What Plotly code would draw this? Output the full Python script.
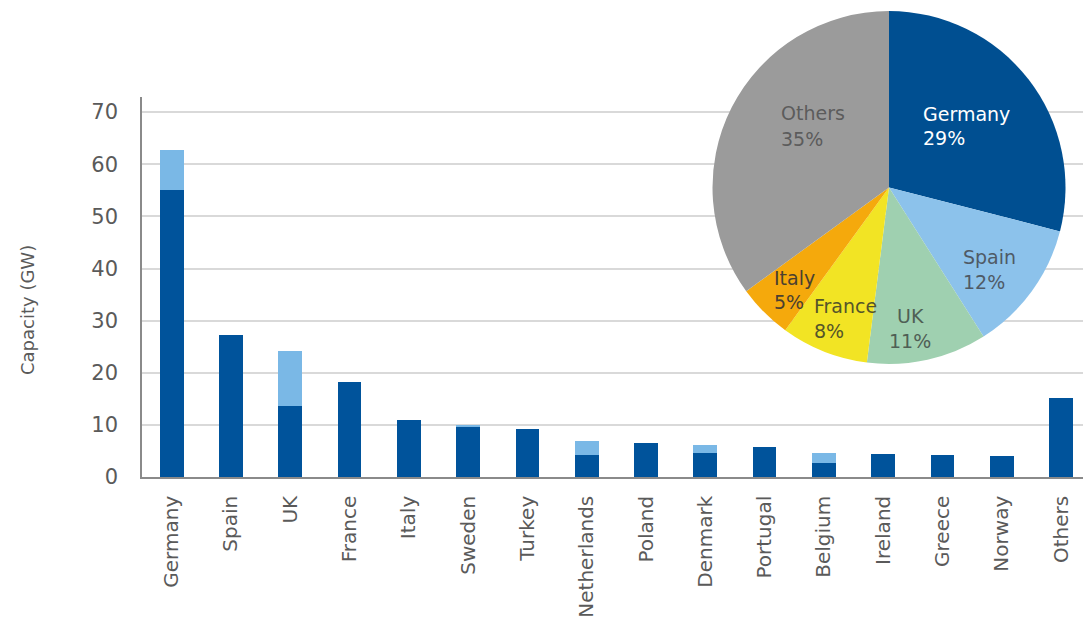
import plotly.graph_objects as go

# Installed wind capacity by country (GW), onshore + offshore
countries = ["Germany", "Spain", "UK", "France", "Italy", "Sweden", "Turkey",
             "Netherlands", "Poland", "Denmark", "Portugal", "Belgium",
             "Ireland", "Greece", "Norway", "Others"]
onshore = [55.0, 27.3, 13.7, 18.2, 11.0, 9.7, 9.3, 4.2, 6.6, 4.6, 5.8, 2.6,
           4.4, 4.2, 4.0, 15.2]
offshore = [7.7, 0.0, 10.4, 0.0, 0.0, 0.2, 0.0, 2.7, 0.0, 1.6, 0.0, 2.0,
            0.0, 0.0, 0.0, 0.0]

# Share of total installed capacity (%)
share_names = ["Germany", "Spain", "UK", "France", "Italy", "Others"]
share_values = [29, 12, 11, 8, 5, 35]
share_colors = ["#004F91", "#8CC2EB", "#9FD0B0", "#F2E424", "#F5A90C", "#9B9B9B"]
share_text_colors = ["#FFFFFF", "#4F5A66", "#4F5F55", "#55552A", "#4A4030", "#5C5C5C"]

W, H = 1083, 619
L, B = 142, 142
PW, PH = W - L, H - B          # plotting area in px
FONT = "DejaVu Sans"
GRAY_TXT = "#5A5A5A"


def px_x(x):
    return (x - L) / PW


def px_y(y):
    return (PH - y) / PH


fig = go.Figure()
fig.add_trace(go.Bar(x=countries, y=onshore, name="Onshore",
                     marker=dict(color="#00539B", line=dict(width=0)),
                     width=0.4, showlegend=False))
fig.add_trace(go.Bar(x=countries, y=offshore, name="Offshore",
                     marker=dict(color="#7AB8E6", line=dict(width=0)),
                     width=0.4, showlegend=False))

# Pie inset: centre (889, 187.5), radius 176.5 px
cx, cy, r = 889, 187.5, 176.5
fig.add_trace(go.Pie(labels=share_names, values=share_values, sort=False,
                     direction="clockwise", rotation=0,
                     marker=dict(colors=share_colors, line=dict(width=0)),
                     textinfo="none", hoverinfo="label+percent",
                     showlegend=False,
                     domain=dict(x=[px_x(cx - r), px_x(cx + r)],
                                 y=[px_y(cy + r), px_y(cy - r)])))

# White halo behind the pie that breaks the gridlines
halo = 212
fig.add_shape(type="circle", xref="paper", yref="paper", layer="between",
              x0=px_x(cx - halo), x1=px_x(cx + halo),
              y0=px_y(cy + halo), y1=px_y(cy - halo),
              fillcolor="white", line=dict(width=0))

# Pie slice labels: name and share on two lines
label_pos = {
    # name: (x, y_name, y_pct, anchor)
    "Germany": (921, 113, 137, "left"),
    "Spain": (961, 256, 281, "left"),
    "UK": (910, 315, 340, "center"),
    "France": (812, 305, 330, "left"),
    "Italy": (772, 277, 301, "left"),
    "Others": (779, 112, 138, "left"),
}
for name, val, tcol in zip(share_names, share_values, share_text_colors):
    x, yn, yp, anc = label_pos[name]
    for txt, yy in ((name, yn), (f"{val}%", yp)):
        fig.add_annotation(text=txt, xref="paper", yref="paper",
                           x=px_x(x), y=px_y(yy + 1), xanchor=anc,
                           yanchor="middle", showarrow=False,
                           font=dict(family=FONT, size=19, color=tcol))

# Y axis title
fig.add_annotation(text="Capacity (GW)", xref="paper", yref="paper",
                   x=px_x(27), y=px_y(310), textangle=-90,
                   xanchor="center", yanchor="middle", showarrow=False,
                   font=dict(family=FONT, size=18, color=GRAY_TXT))

fig.update_layout(
    width=W, height=H, barmode="stack", bargap=0.6,
    margin=dict(l=L, r=0, t=0, b=B, pad=0, autoexpand=False),
    paper_bgcolor="white", plot_bgcolor="white",
    font=dict(family=FONT, color=GRAY_TXT),
    xaxis=dict(range=[-0.5, 15.37], showline=True, linecolor="#8A8A8A",
               linewidth=1.5, showgrid=False, ticks="", tickangle=-90,
               ticklabelstandoff=9, automargin=False,
               tickfont=dict(family=FONT, size=20, color=GRAY_TXT)),
    yaxis=dict(range=[0, 72.9], domain=[0, 380 / PH], showline=True,
               linecolor="#8A8A8A", linewidth=1.5, showgrid=True,
               gridcolor="#D9D9D9", gridwidth=1.5, zeroline=False,
               tickvals=[0, 10, 20, 30, 40, 50, 60, 70], ticks="",
               ticklabelstandoff=18, automargin=False,
               tickfont=dict(family=FONT, size=21, color=GRAY_TXT)),
)

fig.write_html("out.html")
